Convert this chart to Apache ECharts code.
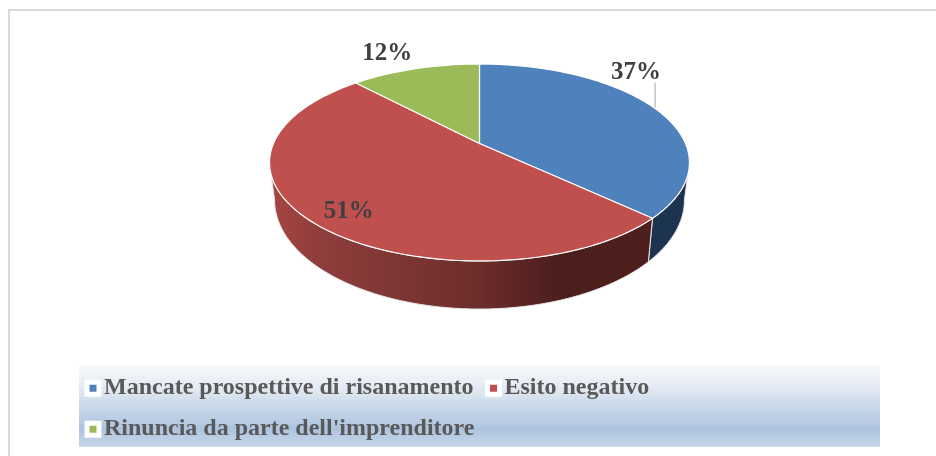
<!DOCTYPE html>
<html>
<head>
<meta charset="utf-8">
<title>Pie</title>
<script src="https://cdn.jsdelivr.net/npm/echarts@6/dist/echarts.min.js"></script>
<style>
  html, body { margin: 0; padding: 0; background: #fff; }
  #chart { width: 936px; height: 456px; }
</style>
</head>
<body>
<div id="chart"></div>
<script>
const categories = ['Mancate prospettive di risanamento', 'Esito negativo', "Rinuncia da parte dell'imprenditore"]
const sliceValues = [37, 51, 12]
const sliceColors = ['#4f81bd', '#c0504d', '#9bbb59']

const chart = echarts.init(document.getElementById('chart'))

// perspective disc: apex is where the slices meet
const apexX = 479.5
const apexY = 143.5
const discA = 206
const discB = 94.8
const tilt = 0.193
const FONT = '"Liberation Serif", "Times New Roman", serif'

// slice starts, clockwise from 12 o'clock
const total = sliceValues.reduce((a, b) => a + b, 0)
const angleAt = (index) => sliceValues.slice(0, index).reduce((a, b) => a + b, 0) / total * Math.PI * 2

// angles of the left and right extremes of the rim, the wall only shows between them
const frontFrom = Math.acos(-tilt)
const frontTo = Math.PI * 2 - frontFrom

const rimPoint = (angle) => {
  const u = Math.sin(angle)
  const v = -Math.cos(angle)
  const w = 1 - tilt * v
  return [discA * u / w, discB * v / w]
}
const topPoint = (angle) => {
  const p = rimPoint(angle)
  return [apexX + p[0], apexY + p[1]]
}
const lowPoint = (angle) => {
  const p = rimPoint(angle)
  return [apexX + p[0] * 0.976, apexY + p[1] * 1.107 + 35.5]
}
const arcPoints = (from, to, fn) => {
  const steps = Math.max(8, Math.ceil((to - from) * 60))
  const pts = []
  for (let i = 0; i <= steps; i++) pts.push(fn(from + (to - from) * i / steps))
  return pts
}

const wallFills = [
  '#1d3450',
  new echarts.graphic.LinearGradient(0, 0, 1, 0, [
    { offset: 0, color: '#a84542' },
    { offset: 0.13, color: '#8f3e3c' },
    { offset: 0.55, color: '#6c2d2b' },
    { offset: 0.76, color: '#4b1e1c' },
    { offset: 1, color: '#4e1f1d' }
  ]),
  '#5f7433'
]

// label offset from the rim point at the slice middle
const labelOffsets = [[-19, -36], [38, -10], [-28, -15]]

const renderWall = (params, api) => {
  const i = params.dataIndex
  const start = angleAt(i)
  const from = Math.max(start, frontFrom)
  const to = Math.min(start + api.value(0) / total * Math.PI * 2, frontTo)
  if (to <= from) return null
  const pts = arcPoints(from, to, topPoint).concat(arcPoints(from, to, lowPoint).reverse())
  return {
    type: 'polygon',
    shape: { points: pts },
    style: { fill: wallFills[i], stroke: '#e8e8e8', lineWidth: 1 }
  }
}

const renderTop = (sliceIndex) => (params, api) => {
  const from = angleAt(sliceIndex)
  const to = from + api.value(0) / total * Math.PI * 2
  const mid = (from + to) / 2
  const anchor = topPoint(mid)
  const off = labelOffsets[sliceIndex]
  const children = [{
    type: 'polygon',
    shape: { points: [[apexX, apexY]].concat(arcPoints(from, to, topPoint)) },
    style: { fill: sliceColors[sliceIndex], stroke: '#fff', lineWidth: 1.2 }
  }, {
    type: 'text',
    style: {
      text: api.value(0) + '%',
      x: anchor[0] + off[0],
      y: anchor[1] + off[1],
      fill: '#404040',
      font: 'bold 25px ' + FONT,
      align: 'center',
      verticalAlign: 'middle'
    }
  }]
  // only the blue label sits far enough to need a leader
  if (sliceIndex === 0) {
    children.unshift({
      type: 'line',
      shape: { x1: anchor[0], y1: anchor[1], x2: anchor[0], y2: anchor[1] + off[1] + 10 },
      style: { stroke: '#a6a6a6', lineWidth: 1 }
    })
  }
  return { type: 'group', children: children }
}

const option = {
  animation: false,
  color: sliceColors,
  graphic: [
    {
      type: 'rect',
      z: 0,
      shape: { x: 9, y: 10, width: 1000, height: 1000 },
      style: { fill: '#fff', stroke: '#d9d9d9', lineWidth: 2 }
    },
    {
      type: 'rect',
      z: 1,
      shape: { x: 79, y: 365, width: 801, height: 82 },
      style: {
        fill: new echarts.graphic.LinearGradient(0, 0, 0, 1, [
          { offset: 0, color: '#f7f9fb' },
          { offset: 0.25, color: '#e6ecf4' },
          { offset: 0.78, color: '#adc4df' },
          { offset: 1, color: '#c8d7e9' }
        ])
      }
    }
  ],
  legend: {
    left: 84.5,
    top: 373.5,
    width: 790,
    padding: 0,
    itemGap: 11.5,
    itemWidth: 12,
    itemHeight: 12,
    icon: 'rect',
    selectedMode: false,
    data: categories,
    itemStyle: { borderColor: '#fff', borderWidth: 5 },
    textStyle: {
      color: '#595959',
      fontFamily: FONT,
      fontWeight: 'bold',
      fontSize: 24,
      lineHeight: 29.5
    }
  },
  series: [
    {
      type: 'custom',
      name: 'pareti',
      coordinateSystem: 'none',
      z: 2,
      silent: true,
      renderItem: renderWall,
      data: sliceValues
    }
  ].concat(categories.map((name, i) => ({
    type: 'custom',
    name: name,
    coordinateSystem: 'none',
    z: 3,
    silent: true,
    itemStyle: { color: sliceColors[i] },
    renderItem: renderTop(i),
    data: [sliceValues[i]]
  })))
}

chart.setOption(option)
window.addEventListener('resize', () => chart.resize())
</script>
</body>
</html>
